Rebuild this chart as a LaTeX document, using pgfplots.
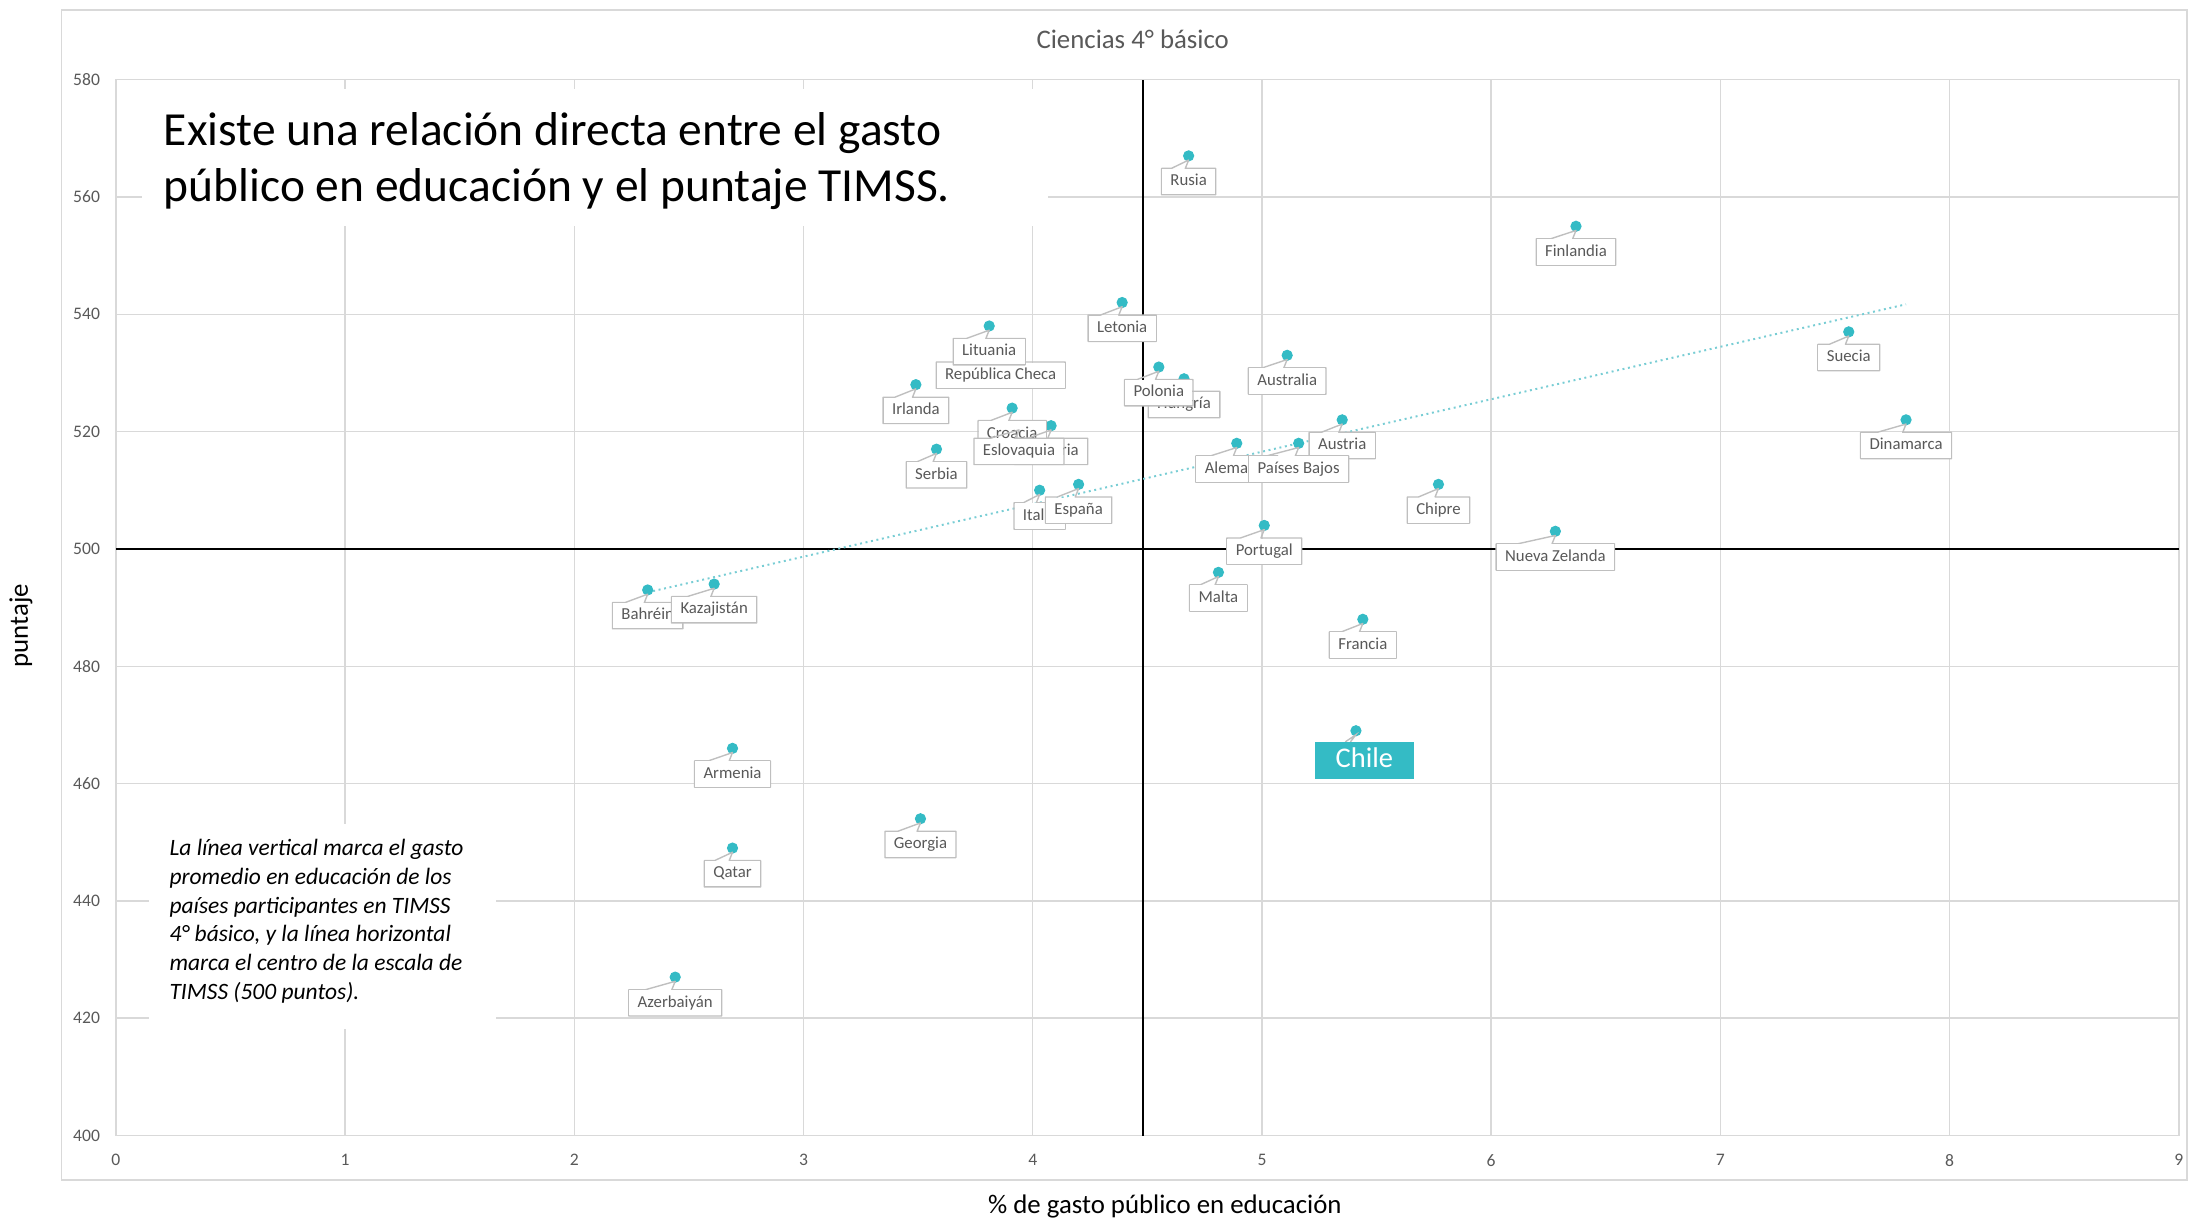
\documentclass[border=0pt]{standalone}
\usepackage{fontspec}
\setmainfont{Carlito}
\usepackage{pgfplots}
\usepackage{pgfplotstable}
\pgfplotsset{compat=1.18}
\usetikzlibrary{calc}

\definecolor{punto}{RGB}{52,187,197}
\definecolor{tendencia}{RGB}{120,205,212}
\definecolor{grilla}{RGB}{217,217,217}
\definecolor{borde}{RGB}{191,191,191}
\definecolor{gristexto}{RGB}{89,89,89}

% % gasto publico en educacion, puntaje TIMSS 2019 ciencias 4 basico
% orden = orden de dibujo de las etiquetas (las ultimas quedan encima)
\pgfplotstableread[col sep=comma]{
x,y,pais
4.68,567,Rusia
6.37,555,Finlandia
4.39,542,Letonia
3.86,534,República Checa
3.81,538,Lituania
7.56,537,Suecia
5.11,533,Australia
4.66,529,Hungría
4.55,531,Polonia
3.49,528,Irlanda
3.91,524,Croacia
4.08,521,Bulgaria
3.94,521,Eslovaquia
7.81,522,Dinamarca
5.35,522,Austria
4.89,518,Alemania
5.16,518,Países Bajos
3.58,517,Serbia
5.77,511,Chipre
4.03,510,Italia
4.20,511,España
5.01,504,Portugal
6.28,503,Nueva Zelanda
4.81,496,Malta
2.32,493,Bahréin
2.61,494,Kazajistán
5.44,488,Francia
2.69,466,Armenia
3.51,454,Georgia
2.69,449,Qatar
2.44,427,Azerbaiyán
}\paises

\tikzset{
  etiqueta/.style={draw=none, fill=white, text=gristexto,
    font=\fontsize{6}{7}\selectfont, inner xsep=3pt, inner ysep=1.6pt,
    text height=4.4pt, text depth=1.4pt, anchor=north, yshift=-4.5pt,
    append after command={\pgfextra{\edef\etq{\tikzlastnode}
      \draw[borde, line width=0.5pt, line join=round] ([xshift=-1.2pt]\etq.north) -- ([yshift=3pt]\etq.north)
        -- ($(\etq.north west)!0.18!(\etq.north east)$) -- (\etq.north west) -- (\etq.south west)
        -- (\etq.south east) -- (\etq.north east) -- cycle;}}},
  etiquetachile/.style={draw=none, fill=punto, text=white,
    font=\fontsize{10.2}{11}\selectfont, inner xsep=7.5pt, inner ysep=2pt,
    text height=7pt, text depth=2pt, anchor=north, yshift=-4pt, xshift=3pt,
    append after command={\pgfextra{\edef\etq{\tikzlastnode}
      \draw[borde, line width=0.5pt] ($(\etq.north west)!0.31!(\etq.north east)$) -- ([xshift=-3pt,yshift=2.6pt]\etq.north) -- ([xshift=-5pt]\etq.north);}}},
}

\begin{document}
\begin{tikzpicture}
\useasboundingbox (-41.5pt,-31pt) rectangle (742.5pt,406.5pt);
\draw[grilla, line width=0.6pt] (-19.5pt,-16pt) rectangle (741.5pt,403pt);
\begin{axis}[
  scale only axis, width=738.5pt, height=378pt,
  xmin=0, xmax=9, ymin=400, ymax=580,
  xtick={0,1,...,9}, ytick={400,420,...,580},
  grid=major, major grid style={draw=grilla, line width=0.5pt},
  axis line style={draw=grilla, line width=0.6pt},
  major tick length=0pt,
  /pgf/number format/assume math mode=true,
  tick label style={font=\fontsize{6.3}{7}\selectfont, text=gristexto},
  xticklabel style={anchor=north, inner sep=0pt, yshift=-6.5pt},
  yticklabel style={anchor=east, inner sep=0pt, xshift=-5.5pt},
  clip=false,
]
% lineas de referencia
\addplot[black, line width=0.8pt] coordinates {(4.48,400) (4.48,580)};
\addplot[black, line width=0.8pt] coordinates {(0,500) (9,500)};
% puntos
\addplot[only marks, mark=*, mark size=1.8pt, color=punto] table[x=x, y=y] {\paises};
\addplot[only marks, mark=*, mark size=1.8pt, color=punto] coordinates {(5.41,469)};
% etiquetas
\addplot[only marks, mark=none, point meta=explicit symbolic,
  nodes near coords, nodes near coords align=below,
  nodes near coords style={etiqueta}] table[x=x, y=y, meta=pais] {\paises};
\addplot[only marks, mark=none, point meta=explicit symbolic,
  nodes near coords, nodes near coords align=below,
  nodes near coords style={etiquetachile}] coordinates {(5.41,469) [Chile]};
% tendencia lineal
\addplot[tendencia, line width=0.7pt, dash pattern=on 0.7pt off 1.3pt] coordinates {(2.32,492.6) (7.81,541.7)};
\end{axis}

% cuadros de texto
\fill[white] (9.5pt,325.5pt) rectangle (333.5pt,374.5pt);
\node[anchor=base west, font=\fontsize{17}{20}\selectfont, inner sep=0pt] at (17pt,354.5pt) {Existe una relación directa entre el gasto};
\node[anchor=base west, font=\fontsize{17}{20}\selectfont, inner sep=0pt] at (17pt,334.5pt) {público en educación y el puntaje TIMSS.};

\fill[white] (12pt,38pt) rectangle (136pt,111.5pt);
\begin{scope}[every node/.style={anchor=base west, inner sep=0pt, font=\fontsize{8.4}{10}\selectfont\itshape}]
\node at (19pt,100.25pt) {La línea vertical marca el gasto};
\node at (19pt,89.95pt) {promedio en educación de los};
\node at (19pt,79.65pt) {países participantes en TIMSS};
\node at (19pt,69.35pt) {4° básico, y la línea horizontal};
\node at (19pt,59.05pt) {marca el centro de la escala de};
\node at (19pt,48.75pt) {TIMSS (500 puntos).};
\end{scope}

% titulos
\node[font=\fontsize{9.6}{11}\selectfont, text=gristexto] at (364pt,392.5pt) {Ciencias 4° básico};
\node[font=\fontsize{9.6}{11}\selectfont] at (375.5pt,-25.5pt) {\% de gasto público en educación};
\node[font=\fontsize{9.6}{11}\selectfont, rotate=90] at (-34pt,182.5pt) {puntaje};
\end{tikzpicture}
\end{document}
